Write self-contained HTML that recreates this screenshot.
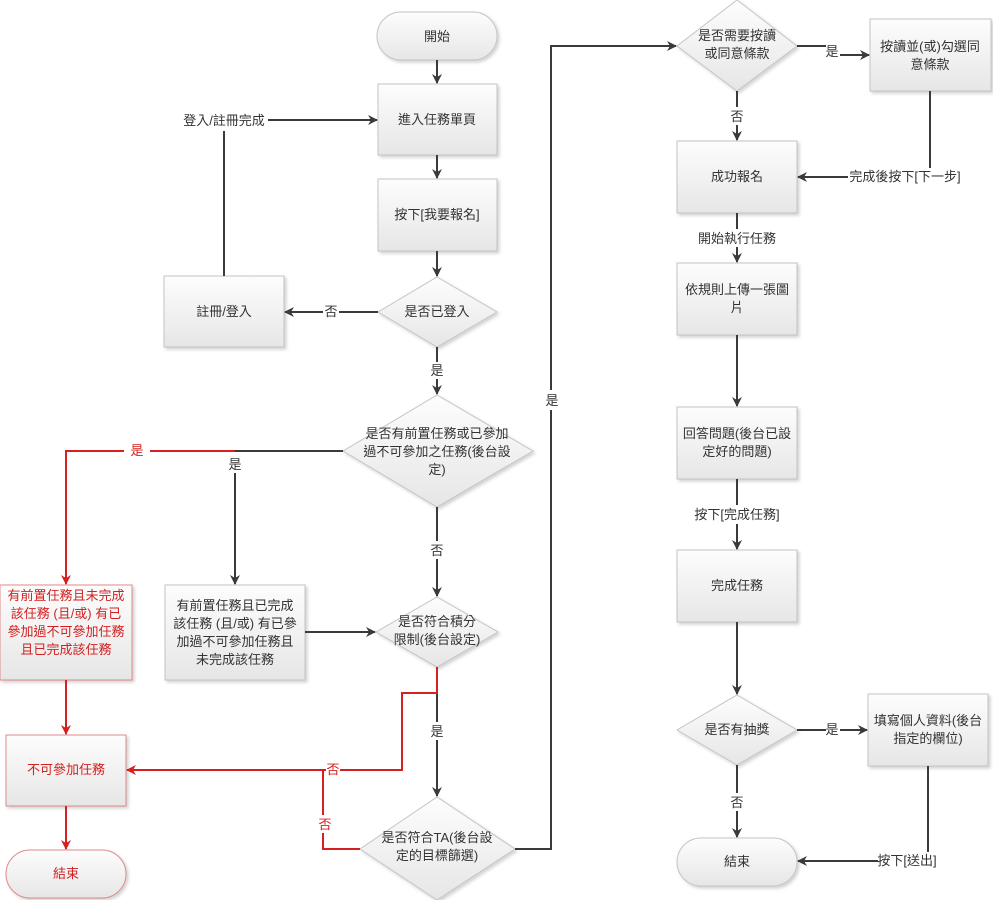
<!DOCTYPE html>
<html><head><meta charset="utf-8">
<style>
html,body{margin:0;padding:0;background:#fff;}
svg{display:block;}
text{font-family:"Liberation Sans","Noto Sans CJK TC",sans-serif;font-size:13px;fill:#333;}
.r text, text.r{fill:#d42020;}
</style></head><body>
<svg width="993" height="900" viewBox="0 0 993 900" xmlns="http://www.w3.org/2000/svg">
<defs>
<linearGradient id="g" x1="0" y1="0" x2="0" y2="1">
<stop offset="0" stop-color="#fdfdfd"/><stop offset="1" stop-color="#e6e6e6"/>
</linearGradient>
<filter id="sh" x="-10%" y="-10%" width="125%" height="125%">
<feDropShadow dx="2" dy="2" stdDeviation="1.5" flood-color="#000" flood-opacity="0.18"/>
</filter>
<marker id="a" markerWidth="10" markerHeight="10" refX="9" refY="5" orient="auto" markerUnits="userSpaceOnUse">
<path d="M0,0 L10,5 L0,10 L3,5 Z" fill="#3a3a3a"/></marker>
<marker id="ar" markerWidth="10" markerHeight="10" refX="9" refY="5" orient="auto" markerUnits="userSpaceOnUse">
<path d="M0,0 L10,5 L0,10 L3,5 Z" fill="#d42020"/></marker>
</defs>

<g fill="url(#g)" stroke="#c4c4c4" stroke-width="1" filter="url(#sh)">
<rect x="377" y="12" width="120" height="48" rx="24"/>
<rect x="378" y="84" width="119" height="71"/>
<rect x="378" y="179" width="119" height="72"/>
<polygon points="437,277 497,312 437,347 378,312"/>
<rect x="164" y="276" width="120" height="71"/>
<polygon points="437,395 533,451 437,507 343,451"/>
<rect x="165" y="585" width="140" height="95"/>
<polygon points="437,597 498,632 437,667 376,632"/>
<polygon points="437,797 515,849 437,900 360,849"/>
<polygon points="737,0 797,46 737,91 677,46"/>
<rect x="870" y="19" width="121" height="72"/>
<rect x="677" y="141" width="120" height="72"/>
<rect x="677" y="263" width="120" height="72"/>
<rect x="677" y="407" width="120" height="72"/>
<rect x="677" y="550" width="120" height="72"/>
<polygon points="737,695 797,730 737,765 677,730"/>
<rect x="868" y="694" width="120" height="72"/>
<rect x="677" y="838" width="120" height="48" rx="24"/>
</g>
<g fill="url(#g)" stroke="#e08a8a" stroke-width="1" filter="url(#sh)">
<rect x="0" y="585" width="132" height="95"/>
<rect x="6" y="735" width="120" height="71"/>
<rect x="6" y="850" width="120" height="48" rx="24"/>
</g>

<g stroke="#3a3a3a" stroke-width="2" fill="none">
<line x1="437" y1="60" x2="437" y2="83" marker-end="url(#a)"/>
<line x1="437" y1="155" x2="437" y2="178" marker-end="url(#a)"/>
<line x1="437" y1="251" x2="437" y2="276" marker-end="url(#a)"/>
<line x1="378" y1="312" x2="339" y2="312"/>
<line x1="323" y1="312" x2="285" y2="312" marker-end="url(#a)"/>
<line x1="224" y1="276" x2="224" y2="131"/>
<line x1="268" y1="120" x2="377" y2="120" marker-end="url(#a)"/>
<line x1="437" y1="347" x2="437" y2="362"/>
<line x1="437" y1="379" x2="437" y2="394" marker-end="url(#a)"/>
<line x1="343" y1="451" x2="235" y2="451"/>
<line x1="235" y1="473" x2="235" y2="584" marker-end="url(#a)"/>
<line x1="437" y1="507" x2="437" y2="541"/>
<line x1="437" y1="559" x2="437" y2="596" marker-end="url(#a)"/>
<line x1="305" y1="632" x2="375" y2="632" marker-end="url(#a)"/>
<line x1="437" y1="667" x2="437" y2="722"/>
<line x1="437" y1="740" x2="437" y2="796" marker-end="url(#a)"/>
<polyline points="515,849 551,849 551,410"/>
<polyline points="551,390 551,46 676,46" marker-end="url(#a)"/>
<polyline points="797,46 826,46"/>
<line x1="840" y1="55" x2="869" y2="55" marker-end="url(#a)"/>
<line x1="737" y1="91" x2="737" y2="107"/>
<line x1="737" y1="125" x2="737" y2="140" marker-end="url(#a)"/>
<line x1="930" y1="91" x2="930" y2="168"/>
<line x1="848" y1="177" x2="798" y2="177" marker-end="url(#a)"/>
<line x1="737" y1="213" x2="737" y2="229"/>
<line x1="737" y1="247" x2="737" y2="262" marker-end="url(#a)"/>
<line x1="737" y1="335" x2="737" y2="406" marker-end="url(#a)"/>
<line x1="737" y1="479" x2="737" y2="505"/>
<line x1="737" y1="524" x2="737" y2="549" marker-end="url(#a)"/>
<line x1="737" y1="622" x2="737" y2="694" marker-end="url(#a)"/>
<line x1="797" y1="730" x2="826" y2="730"/>
<line x1="840" y1="730" x2="867" y2="730" marker-end="url(#a)"/>
<line x1="737" y1="765" x2="737" y2="793"/>
<line x1="737" y1="811" x2="737" y2="837" marker-end="url(#a)"/>
<line x1="928" y1="766" x2="928" y2="852"/>
<line x1="878" y1="861" x2="798" y2="861" marker-end="url(#a)"/>
</g>
<g stroke="#d42020" stroke-width="2" fill="none">
<polyline points="235,451 150,451"/>
<polyline points="124,451 66,451 66,584" marker-end="url(#ar)"/>
<line x1="66" y1="680" x2="66" y2="734" marker-end="url(#ar)"/>
<line x1="66" y1="806" x2="66" y2="849" marker-end="url(#ar)"/>
<polyline points="437,667 437,693 402,693 402,770 340,770"/>
<line x1="326" y1="770" x2="127" y2="770" marker-end="url(#ar)"/>
<polyline points="360,849 323,849 323,833"/>
<line x1="323" y1="815" x2="323" y2="770"/>
</g>

<g text-anchor="middle">
<text x="437" y="41">開始</text>
<text x="437" y="124">進入任務單頁</text>
<text x="437" y="219">按下[我要報名]</text>
<text x="437" y="316">是否已登入</text>
<text x="224" y="316">註冊/登入</text>
<text x="224" y="125">登入/註冊完成</text>
<text x="331" y="316">否</text>
<text x="437" y="375">是</text>
<text x="437" y="438">是否有前置任務或已參加</text>
<text x="437" y="456">過不可參加之任務(後台設</text>
<text x="437" y="474">定)</text>
<text x="235" y="469">是</text>
<text x="437" y="555">否</text>
<text x="235" y="610">有前置任務且已完成</text>
<text x="235" y="628">該任務 (且/或) 有已參</text>
<text x="235" y="646">加過不可參加任務且</text>
<text x="235" y="664">未完成該任務</text>
<text x="437" y="626">是否符合積分</text>
<text x="437" y="644">限制(後台設定)</text>
<text x="437" y="736">是</text>
<text x="437" y="842">是否符合TA(後台設</text>
<text x="437" y="860">定的目標篩選)</text>
<text x="552" y="405">是</text>
<text x="737" y="40">是否需要按讀</text>
<text x="737" y="58">或同意條款</text>
<text x="832" y="56">是</text>
<text x="930" y="51">按讀並(或)勾選同</text>
<text x="930" y="69">意條款</text>
<text x="737" y="121">否</text>
<text x="737" y="181">成功報名</text>
<text x="905" y="181">完成後按下[下一步]</text>
<text x="737" y="243">開始執行任務</text>
<text x="737" y="294">依規則上傳一張圖</text>
<text x="737" y="312">片</text>
<text x="737" y="438">回答問題(後台已設</text>
<text x="737" y="456">定好的問題)</text>
<text x="737" y="519">按下[完成任務]</text>
<text x="737" y="590">完成任務</text>
<text x="737" y="734">是否有抽獎</text>
<text x="832" y="734">是</text>
<text x="928" y="725">填寫個人資料(後台</text>
<text x="928" y="743">指定的欄位)</text>
<text x="737" y="807">否</text>
<text x="737" y="866">結束</text>
<text x="907" y="865">按下[送出]</text>
</g>
<g text-anchor="middle" class="r">
<text x="137" y="455">是</text>
<text x="66" y="600">有前置任務且未完成</text>
<text x="66" y="618">該任務 (且/或) 有已</text>
<text x="66" y="636">參加過不可參加任務</text>
<text x="66" y="654">且已完成該任務</text>
<text x="66" y="774">不可參加任務</text>
<text x="66" y="878">結束</text>
<text x="333" y="774">否</text>
<text x="325" y="829">否</text>
</g>
</svg>
</body></html>
